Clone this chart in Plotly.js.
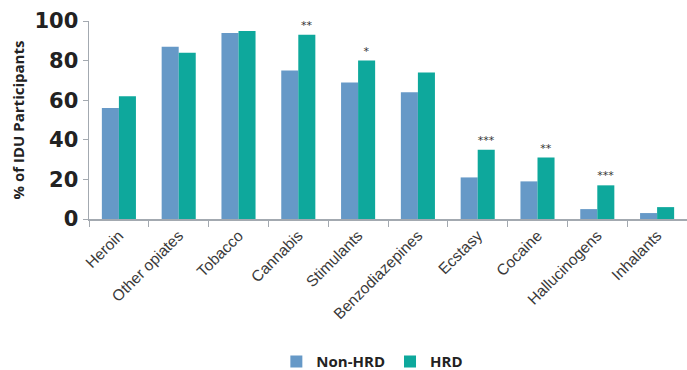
<!DOCTYPE html>
<html>
<head>
<meta charset="utf-8">
<script src="https://cdn.plot.ly/plotly-3.0.1.min.js"></script>
<style>html,body{margin:0;padding:0;background:#fff;}#chart{width:687px;height:370px;}</style>
</head>
<body>
<div id="chart"></div>
<script>
var categories = ["Heroin","Other opiates","Tobacco","Cannabis","Stimulants","Benzodiazepines","Ecstasy","Cocaine","Hallucinogens","Inhalants"];
var nonHRD = [56, 87, 94, 75, 69, 64, 21, 19, 5, 3];
var hrd = [62, 84, 95, 93, 80, 74, 35, 31, 17, 6];
var significance = ["", "", "", "**", "*", "", "***", "**", "***", ""];
var yTicks = [0, 20, 40, 60, 80, 100];

var traces = [
  {
    type: "bar", name: "Non-HRD", x: categories, y: nonHRD,
    marker: {color: "#6699C7"}
  },
  {
    type: "bar", name: "HRD", x: categories, y: hrd,
    marker: {color: "#0EA89C"},
    text: significance, textposition: "outside", constraintext: "none",
    textfont: {family: "DejaVu Sans", size: 11, color: "#333"},
    cliponaxis: false
  }
];

var layout = {
  width: 687, height: 370,
  margin: {l: 89, r: 0, t: 21, b: 151},
  paper_bgcolor: "#fff", plot_bgcolor: "#fff",
  barmode: "group", bargap: 0.43, bargroupgap: 0,
  showlegend: true,
  legend: {orientation: "h", xref: "container", yref: "container",
    x: 0.542, xanchor: "center", y: 0.022, yanchor: "middle",
    font: {family: "Open Sans", size: 15, color: "#222", weight: "bold"}, itemwidth: 30},
  xaxis: {
    type: "category", range: [-0.5, 9.5], automargin: false,
    showline: true, linecolor: "#A3A9B0", linewidth: 1.5,
    ticks: "outside", tickson: "boundaries", ticklen: 6, tickcolor: "#A3A9B0",
    tickangle: -45, tickfont: {family: "Liberation Sans", size: 15.5, color: "#3a3a3a"},
    showgrid: false
  },
  yaxis: {
    range: [0, 100], tickvals: yTicks, ticktext: yTicks.map(String), automargin: false,
    showline: true, linecolor: "#A3A9B0", linewidth: 1.5,
    ticks: "outside", ticklen: 5, tickcolor: "#A3A9B0",
    tickfont: {family: "DejaVu Sans", size: 21, color: "#222", weight: "bold"},
    showgrid: false, zeroline: false,
    title: {text: "% of IDU Participants", font: {family: "Open Sans", size: 15, color: "#222", weight: "bold"}, standoff: 6}
  }
};

Plotly.newPlot("chart", traces, layout, {displayModeBar: false, staticPlot: true});
</script>
</body>
</html>
